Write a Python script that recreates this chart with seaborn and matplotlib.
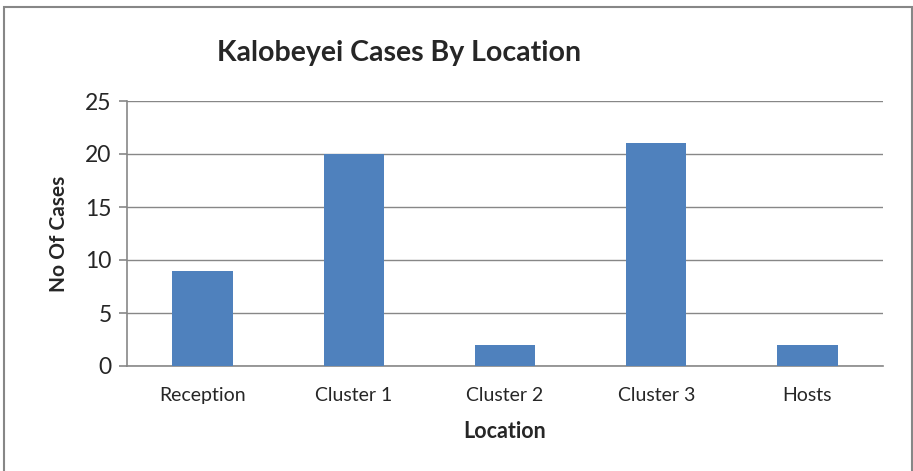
import matplotlib
matplotlib.use("Agg")
import matplotlib.pyplot as plt
import seaborn as sns
import pandas as pd
from matplotlib.patches import Rectangle

locations = ["Reception", "Cluster 1", "Cluster 2", "Cluster 3", "Hosts"]
cases = [9, 20, 2, 21, 2]

sns.set_style("white")
plt.rcParams['font.family'] = ['Lato', 'DejaVu Sans']

df = pd.DataFrame({"Location": locations, "Cases": cases})

fig = plt.figure(figsize=(9.13, 4.71), dpi=100)
ax = fig.add_axes([127 / 913, 1 - 366 / 471, (883 - 127) / 913, (366 - 101) / 471])

sns.barplot(data=df, x="Location", y="Cases", color="#4F81BD", width=0.4,
            saturation=1, linewidth=0, ax=ax, zorder=3)

grey = "#878787"
ax.set_ylim(0, 25)
ax.set_yticks(range(0, 26, 5))
ax.set_xlim(-0.5, 4.5)
ax.yaxis.grid(True, color=grey, linewidth=1, zorder=0)
ax.set_axisbelow(True)
for s in ["top", "right"]:
    ax.spines[s].set_visible(False)
for s in ["left", "bottom"]:
    ax.spines[s].set_color(grey)
    ax.spines[s].set_linewidth(1.2)

# ticks on category boundaries for x
ax.set_xticks([i for i in range(5)])
ax.set_xticklabels(locations, fontsize=14)
ax.set_xticks([i - 0.5 for i in range(6)], minor=True)
ax.tick_params(axis="x", which="major", length=0, pad=15)
ax.tick_params(axis="x", which="minor", length=5, color=grey, width=1.2, direction="out")
ax.tick_params(axis="y", length=6, color=grey, width=1.2, labelsize=16.5, pad=5, left=True)

ax.set_xlabel("Location", fontsize=15.5, fontweight="bold", labelpad=12)
ax.set_ylabel("No Of Cases", fontsize=15, fontweight="bold", labelpad=12)

fig.text(399 / 913, 1 - 53 / 471, "Kalobeyei Cases By Location", fontsize=20.5,
         fontweight="bold", ha="center", va="center")

fig.patches.append(Rectangle((4 / 913, -0.05), (912 - 4) / 913, 1.05 - 7 / 471,
                             transform=fig.transFigure, fill=False,
                             edgecolor=grey, linewidth=1.5))

fig.savefig("out.png", dpi=100)
